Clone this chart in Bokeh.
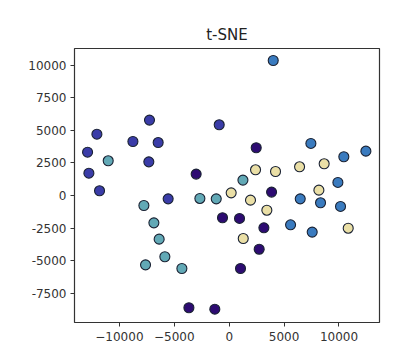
from bokeh.plotting import figure
from bokeh.models import FixedTicker, ColumnDataSource, Range1d
from bokeh.embed import file_html
from bokeh.resources import INLINE

# class A (blue-violet)
a_x = [-12900, -12050, -12780, -11810, -8770, -7260, -6470, -7320, -5560, -910]
a_y = [3320, 4700, 1710, 360, 4140, 5780, 4060, 2580, -260, 5420]
# class B (teal)
b_x = [-11020, -7770, -6860, -6380, -5860, -7620, -4310, -2670, -1180, 1250]
b_y = [2660, -770, -2100, -3350, -4700, -5320, -5600, -230, -260, 1180]
# class C (indigo)
c_x = [-3010, -610, 940, 2460, 3860, 3160, 2730, 1030, -3670, -1310]
c_y = [1640, -1710, -1760, 3660, 260, -2480, -4120, -5600, -8610, -8720]
# class D (blue)
d_x = [4010, 7440, 10440, 12450, 9900, 6470, 8320, 10140, 5590, 7560]
d_y = [10350, 3990, 2970, 3400, 1000, -260, -560, -840, -2250, -2810]
# class E (beige)
e_x = [180, 2400, 4220, 6410, 8650, 1940, 8170, 3430, 1280, 10840]
e_y = [200, 1970, 1840, 2200, 2430, -360, 410, -1130, -3300, -2510]

classes = [
    (a_x, a_y, "#3a3ca8"),
    (b_x, b_y, "#62a9b6"),
    (c_x, c_y, "#2d0b72"),
    (d_x, d_y, "#3a7bbf"),
    (e_x, e_y, "#eadfa6"),
]

x_ticks = [-10000, -5000, 0, 5000, 10000]
x_labels = ["\u221210000", "\u22125000", "0", "5000", "10000"]
y_ticks = [-7500, -5000, -2500, 0, 2500, 5000, 7500, 10000]
y_labels = ["-7500", "-5000", "-2500", "0", "2500", "5000", "7500", "10000"]

p = figure(width=397, height=354, output_backend="svg", toolbar_location=None,
           x_range=Range1d(-14090, 13690), y_range=Range1d(-9740, 11270),
           title="t-SNE", min_border_left=74, min_border_right=18,
           min_border_top=48, min_border_bottom=32)

for xs, ys, col in classes:
    src = ColumnDataSource(dict(x=xs, y=ys))
    p.scatter("x", "y", source=src, size=10, fill_color=col,
              line_color="#1a2233", line_width=1.1)

p.title.align = "center"
p.title.text_font = "DejaVu Sans"
p.title.text_font_size = "15px"
p.title.text_font_style = "normal"
p.title.text_color = "#222222"

p.xgrid.visible = False
p.ygrid.visible = False
p.outline_line_color = "#333333"
p.outline_line_width = 1.2

p.xaxis.ticker = FixedTicker(ticks=x_ticks)
p.yaxis.ticker = FixedTicker(ticks=y_ticks)
p.xaxis.major_label_overrides = {t: l for t, l in zip(x_ticks, x_labels)}
p.yaxis.major_label_overrides = {t: l for t, l in zip(y_ticks, y_labels)}
for ax in (p.xaxis, p.yaxis):
    ax.axis_line_color = None
    ax.minor_tick_line_color = None
    ax.major_tick_out = 4
    ax.major_tick_in = 0
    ax.major_tick_line_color = "#333333"
    ax.major_label_text_font = "DejaVu Sans"
    ax.major_label_text_font_size = "12px"
    ax.major_label_text_color = "#333333"
p.yaxis.major_label_standoff = 4
p.xaxis.major_label_standoff = 5

open("out.html", "w").write(file_html(p, INLINE))
